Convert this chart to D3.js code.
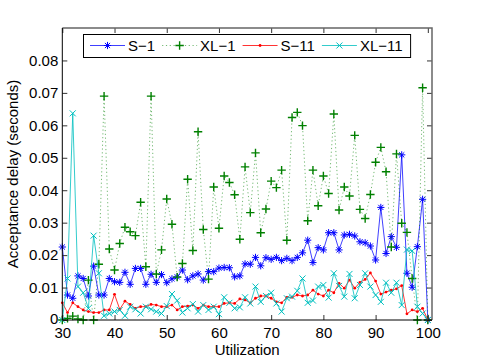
<!DOCTYPE html>
<html>
<head>
<meta charset="utf-8">
<script src="https://cdn.jsdelivr.net/npm/d3@7"></script>
<style>
	body { margin: 0; background: #fff; }
	text { font-family: "Liberation Sans", Arial, Helvetica, sans-serif; }
</style>
</head>
<body>
<div id="chart"></div>
<script>
document.addEventListener("DOMContentLoaded", main);

var utilization = [30, 31, 32, 33, 34, 35, 36, 37, 38, 39, 40, 41, 42, 43, 44, 45, 46, 47, 48, 49,
	50, 51, 52, 53, 54, 55, 56, 57, 58, 59, 60, 61, 62, 63, 64, 65, 66, 67, 68, 69,
	70, 71, 72, 73, 74, 75, 76, 77, 78, 79, 80, 81, 82, 83, 84, 85, 86, 87, 88, 89,
	90, 91, 92, 93, 94, 95, 96, 97, 98, 99, 100];

var s1 = [0.0225, 0.0077, 0.0067, 0.0136, 0.0128, 0.0074, 0.0166, 0.0077, 0.0077, 0.0128,
	0.0118, 0.0116, 0.0147, 0.0110, 0.0159, 0.0159, 0.0110, 0.0141, 0.0116, 0.0140,
	0.0115, 0.0127, 0.0133, 0.0154, 0.0124, 0.0136, 0.0142, 0.0123, 0.0149, 0.0149,
	0.0160, 0.0162, 0.0161, 0.0133, 0.0136, 0.0173, 0.0172, 0.0193, 0.0167, 0.0192,
	0.0187, 0.0193, 0.0183, 0.0190, 0.0183, 0.0193, 0.0207, 0.0246, 0.0177, 0.0223,
	0.0216, 0.0269, 0.0269, 0.0216, 0.0262, 0.0264, 0.0259, 0.0241, 0.0238, 0.0228,
	0.0185, 0.0347, 0.0205, 0.0257, 0.0224, 0.0509, 0.0144, 0.0101, 0.0226, 0.0372, 0];

var xl1 = [0, 0.0005, 0.0012, 0.0003, 0, 0.0123, 0, 0.0172, 0.0690, 0.0219,
	0.0154, 0.0236, 0.0286, 0.0272, 0.0260, 0.0363, 0.0164, 0.0690, 0.0142, 0.0216,
	0.0373, 0.0295, 0.0132, 0.0174, 0.0434, 0.0214, 0.0580, 0.0279, 0.0126, 0.0410,
	0.0283, 0.0444, 0.0424, 0.0386, 0.0249, 0.0472, 0.0331, 0.0515, 0.0269, 0.0342,
	0.0428, 0.0408, 0.0462, 0.0246, 0.0624, 0.0640, 0.0599, 0.0306, 0.0462, 0.0352,
	0.0444, 0.0390, 0.0635, 0.0339, 0.0410, 0.0382, 0.0569, 0.0341, 0.0313, 0.0387,
	0.0486, 0.0532, 0.0457, 0.0225, 0.0512, 0.0298, 0.0270, 0.0128, 0, 0.0716, 0];

var s11 = [0.0053, 0.0023, 0.0053, 0.0041, 0.0031, 0.0026, 0.0023, 0.0023, 0.0031, 0.0031,
	0.0079, 0.0033, 0.0058, 0.0048, 0.0036, 0.0041, 0.0041, 0.0048, 0.0046, 0.0041,
	0.0041, 0.0046, 0.0031, 0.0041, 0.0043, 0.0046, 0.0036, 0.0046, 0.0041, 0.0041,
	0.0041, 0.0051, 0.0053, 0.0051, 0.0065, 0.0062, 0.0053, 0.0067, 0.0074, 0.0074,
	0.0067, 0.0056, 0.0053, 0.0070, 0.0070, 0.0077, 0.0074, 0.0077, 0.0092, 0.0080,
	0.0074, 0.0092, 0.0084, 0.0113, 0.0098, 0.0123, 0.0098, 0.0116, 0.0125, 0.0145,
	0.0120, 0.0080, 0.0086, 0.0092, 0.0096, 0.0106, 0.0019, 0.0031, 0.0026, 0.0036, 0];

var xl11 = [0, 0.0128, 0.0637, 0.0103, 0.0084, 0.0036, 0.0260, 0.0144, 0.0013, 0.0020,
	0.0026, 0.0031, 0.0013, 0.0041, 0.0033, 0.0020, 0.0041, 0.0033, 0.0026, 0.0020,
	0.0043, 0.0080, 0.0060, 0.0023, 0.0036, 0.0049, 0.0026, 0.0046, 0.0031, 0.0041,
	0.0018, 0.0070, 0.0053, 0.0036, 0.0039, 0.0070, 0.0051, 0.0103, 0.0056, 0.0074,
	0.0084, 0.0051, 0.0026, 0.0067, 0.0072, 0.0090, 0.0128, 0.0053, 0.0060, 0.0103,
	0.0108, 0.0069, 0.0144, 0.0105, 0.0072, 0.0142, 0.0067, 0.0108, 0.0144, 0.0103,
	0.0077, 0.0056, 0.0115, 0.0084, 0.0115, 0.0046, 0.0217, 0.0213, 0.0041, 0.0020, 0];

var seriesNames = ["S\u22121", "XL\u22121", "S\u221211", "XL\u221211"];
var xTicks = [30, 40, 50, 60, 70, 80, 90, 100];
var yTicks = [0, 0.01, 0.02, 0.03, 0.04, 0.05, 0.06, 0.07, 0.08];

var canvas = {};

function addCanvas(cont) {
	canvas.bounds = { width: 479, height: 360 };
	canvas.box = { left: 62.3, right: 432, top: 28, bottom: 320 };

	canvas.svg = d3.select(cont).append("svg")
		.attr("width", canvas.bounds.width)
		.attr("height", canvas.bounds.height);

	canvas.g = canvas.svg.append("g");
}

// little marker shapes in the matlab style
function markerPath(kind, x, y) {
	var r;
	if (kind == "star") {
		r = 3.6;
		var d = r * 0.72;
		return `M${x - r},${y}H${x + r}M${x},${y - r}V${y + r}` +
			`M${x - d},${y - d}L${x + d},${y + d}M${x - d},${y + d}L${x + d},${y - d}`;
	}
	if (kind == "plus") {
		r = 4.2;
		return `M${x - r},${y}H${x + r}M${x},${y - r}V${y + r}`;
	}
	if (kind == "cross") {
		r = 3;
		return `M${x - r},${y - r}L${x + r},${y + r}M${x - r},${y + r}L${x + r},${y - r}`;
	}
	return "";
}

function drawChart() {
	var b = canvas.box;
	var g = canvas.g;

	var x = d3.scaleLinear().domain([30, 100.8]).range([b.left, b.right]);
	var y = d3.scaleLinear().domain([0, 0.09]).range([b.bottom, b.top]);

	var series = [
		{ name: seriesNames[0], values: s1, color: "#0000ff", lineOpacity: 0.75, dash: null, marker: "star", mw: 1 },
		{ name: seriesNames[1], values: xl1, color: "#008000", lineOpacity: 0.55, dash: "1.2,2.6", marker: "plus", mw: 1.4 },
		{ name: seriesNames[2], values: s11, color: "#ff0000", lineOpacity: 0.8, dash: null, marker: "dot", mw: 1 },
		{ name: seriesNames[3], values: xl11, color: "#00bfbf", lineOpacity: 0.8, dash: null, marker: "cross", mw: 1 }
	];

	canvas.svg.append("clipPath").attr("id", "plotclip")
		.append("rect")
		.attr("x", b.left - 5).attr("y", b.top)
		.attr("width", b.right - b.left + 5).attr("height", b.bottom - b.top + 5);

	var line = d3.line()
		.x((d, i) => x(utilization[i]))
		.y((d) => y(d));

	var plot = g.append("g").attr("clip-path", "url(#plotclip)");

	series.forEach((s) => {
		var sg = plot.append("g").attr("class", "series");

		sg.append("path")
			.attr("d", line(s.values))
			.attr("fill", "none")
			.attr("stroke", s.color)
			.attr("stroke-opacity", s.lineOpacity)
			.attr("stroke-width", 1)
			.attr("stroke-dasharray", s.dash);

		if (s.marker == "dot") {
			sg.selectAll("circle")
				.data(s.values)
				.enter()
				.append("circle")
				.attr("cx", (d, i) => x(utilization[i]))
				.attr("cy", (d) => y(d))
				.attr("r", 1.4)
				.attr("fill", s.color);
		} else {
			sg.append("path")
				.attr("d", s.values.map((d, i) => markerPath(s.marker, x(utilization[i]), y(d))).join(""))
				.attr("fill", "none")
				.attr("stroke", s.color)
				.attr("stroke-width", s.mw);
		}
	});

	// axes, ticks pointing inwards
	var yFmt = (d) => d === 0 ? "0" : d3.format(".2f")(d);

	var xAxis = g.append("g")
		.attr("transform", "translate(0," + b.bottom + ")")
		.call(d3.axisBottom(x).tickValues(xTicks).tickSizeInner(-5).tickSizeOuter(0).tickPadding(7));

	var yAxis = g.append("g")
		.attr("transform", "translate(" + b.left + ",0)")
		.call(d3.axisLeft(y).tickValues(yTicks).tickFormat(yFmt).tickSizeInner(-5).tickSizeOuter(0).tickPadding(4));

	var xTop = g.append("g")
		.attr("transform", "translate(0," + b.top + ")")
		.call(d3.axisTop(x).tickValues(xTicks).tickSizeInner(-5).tickSizeOuter(0).tickFormat(""));

	var yRight = g.append("g")
		.attr("transform", "translate(" + b.right + ",0)")
		.call(d3.axisRight(y).tickValues(yTicks).tickSizeInner(-5).tickSizeOuter(0).tickFormat(""));

	[xAxis, yAxis, xTop, yRight].forEach((a) => {
		a.select(".domain").remove();
		a.selectAll("line").attr("stroke", "#333");
		a.selectAll("text")
			.attr("fill", "#000")
			.style("font-size", "15px")
			.style("font-family", "'Liberation Sans', Arial, sans-serif");
	});
	// nudge the zero label up a touch so it clears the "30"
	yAxis.selectAll(".tick").filter((d) => d === 0).select("text").attr("dy", "0.2em");

	// box
	g.append("path")
		.attr("d", `M${b.left},${b.top}H${b.right}V${b.bottom}`)
		.attr("fill", "none")
		.attr("stroke", "#666")
		.attr("stroke-width", 1.5);
	g.append("path")
		.attr("d", `M${b.left},${b.top}V${b.bottom}H${b.right}`)
		.attr("fill", "none")
		.attr("stroke", "#000")
		.attr("stroke-width", 1);

	// labels
	g.append("text")
		.attr("x", (b.left + b.right) / 2)
		.attr("y", 355)
		.attr("text-anchor", "middle")
		.style("font-size", "15px")
		.text("Utilization");

	g.append("text")
		.attr("transform", "translate(18," + ((b.top + b.bottom) / 2) + ") rotate(-90)")
		.attr("text-anchor", "middle")
		.style("font-size", "15px")
		.text("Acceptance delay (seconds)");

	// legend
	var lg = g.append("g").attr("class", "legend");
	var legRect = lg.append("rect")
		.attr("x", 83.5).attr("y", 34.5)
		.attr("height", 23)
		.attr("fill", "#fff")
		.attr("stroke", "#000")
		.attr("stroke-width", 1);

	var cx = 90;
	var ly = 45.5;
	series.forEach((s) => {
		lg.append("line")
			.attr("x1", cx).attr("x2", cx + 35)
			.attr("y1", ly).attr("y2", ly)
			.attr("stroke", s.color)
			.attr("stroke-opacity", s.lineOpacity)
			.attr("stroke-dasharray", s.dash);
		if (s.marker == "dot") {
			lg.append("circle")
				.attr("cx", cx + 17.5).attr("cy", ly).attr("r", 1.4)
				.attr("fill", s.color);
		} else {
			lg.append("path")
				.attr("d", markerPath(s.marker, cx + 17.5, ly))
				.attr("fill", "none")
				.attr("stroke", s.color)
				.attr("stroke-width", s.mw);
		}
		var t = lg.append("text")
			.attr("x", cx + 38)
			.attr("y", 51)
			.style("font-size", "15px")
			.text(s.name);
		cx = cx + 38 + t.node().getComputedTextLength() + 7;
	});
	legRect.attr("width", cx - 83.5 + 1);
}

function main() {
	addCanvas("#chart");
	drawChart();
}
</script>
</body>
</html>
